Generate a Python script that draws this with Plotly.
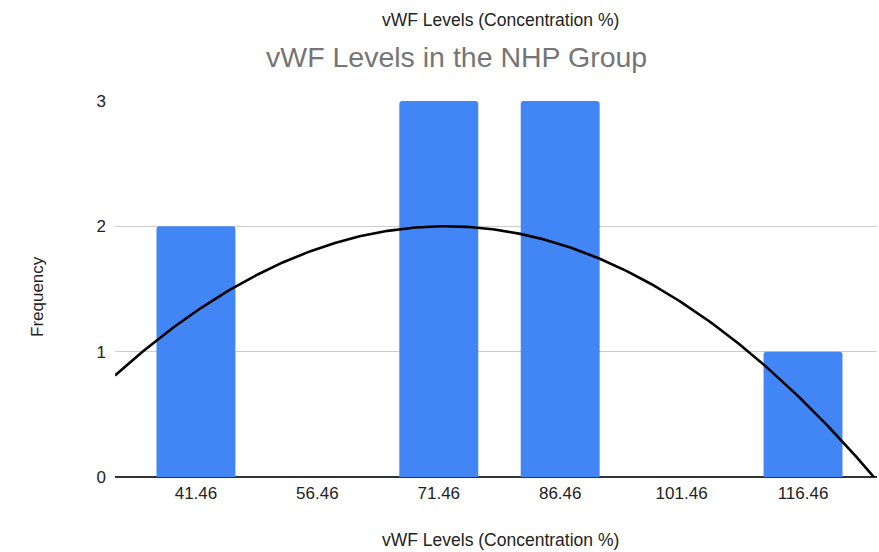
import numpy as np
import plotly.graph_objects as go

bin_labels = ["41.46", "56.46", "71.46", "86.46", "101.46", "116.46"]
bin_centers = [41.46, 56.46, 71.46, 86.46, 101.46, 116.46]
frequency = [2, 0, 3, 3, 0, 1]

x_min, x_max = 31.46, 125.6

# Polynomial (order 2) trendline fitted to the histogram counts
coef = np.polyfit(bin_centers, frequency, 2)
xs = np.linspace(x_min, x_max, 300)
ys = np.polyval(coef, xs)

font_family = "Arial, Liberation Sans, sans-serif"
W, H = 879, 552
L, R, T, B = 115, 2, 101, 75
PW, PH = W - L - R, H - T - B

def px_x(p):
    return (p - L) / PW

def px_y(p):
    return (H - B - p) / PH

fig = go.Figure()
fig.add_trace(go.Bar(
    x=bin_centers, y=frequency, width=9.75,
    marker=dict(color="#4285F4", line=dict(width=0), cornerradius=3),
    showlegend=False, hoverinfo="x+y",
))
fig.add_trace(go.Scatter(
    x=xs, y=ys, mode="lines",
    line=dict(color="#000000", width=2.6),
    showlegend=False, hoverinfo="skip",
))

fig.update_layout(
    width=W, height=H,
    margin=dict(l=L, r=R, t=T, b=B),
    paper_bgcolor="white", plot_bgcolor="white",
    font=dict(family=font_family, color="#222222", size=17),
    xaxis=dict(
        range=[x_min, x_max], tickmode="array",
        tickvals=bin_centers, ticktext=bin_labels,
        showgrid=False, zeroline=False, showline=False,
        ticks="", ticklabelstandoff=4,
        tickfont=dict(size=17, color="#222222"),
    ),
    yaxis=dict(
        range=[0, 3], tickvals=[0, 1, 2, 3],
        showgrid=True, gridcolor="#CCCCCC", gridwidth=1,
        zeroline=True, zerolinecolor="#333333", zerolinewidth=1.5,
        showline=False, ticks="", ticklabelstandoff=8,
        tickfont=dict(size=17, color="#222222"),
    ),
    annotations=[
        dict(text="vWF Levels in the NHP Group", xref="paper", yref="paper",
             x=px_x(456), y=px_y(57), xanchor="center", yanchor="middle",
             showarrow=False, font=dict(size=28.5, color="#757575")),
        dict(text="vWF Levels (Concentration %)", xref="paper", yref="paper",
             x=px_x(500), y=px_y(20), xanchor="center", yanchor="middle",
             showarrow=False, font=dict(size=17.5, color="#222222")),
        dict(text="vWF Levels (Concentration %)", xref="paper", yref="paper",
             x=px_x(500), y=px_y(540), xanchor="center", yanchor="middle",
             showarrow=False, font=dict(size=17.5, color="#222222")),
        dict(text="Frequency", xref="paper", yref="paper", textangle=-90,
             x=px_x(37), y=px_y(297), xanchor="center", yanchor="middle",
             showarrow=False, font=dict(size=17, color="#222222")),
    ],
)

fig.write_html("out.html", config={"displayModeBar": False},
               post_script="document.body.style.margin='0';")
